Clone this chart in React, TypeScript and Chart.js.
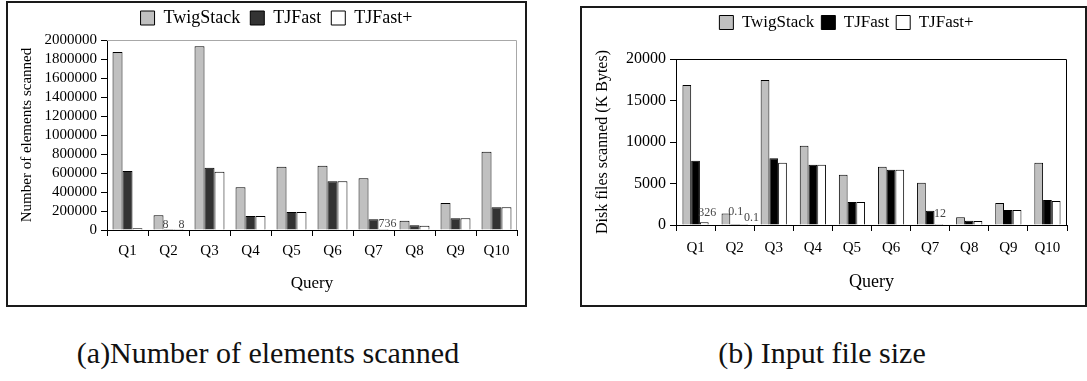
import React, { useEffect, useRef } from 'react';
import { Chart, registerables } from 'chart.js';

Chart.register(...registerables);

const FONT = '"Liberation Serif", "DejaVu Serif", "Noto Serif", Tinos, serif';

// ---------- data ----------
const categories = ['Q1', 'Q2', 'Q3', 'Q4', 'Q5', 'Q6', 'Q7', 'Q8', 'Q9', 'Q10'];
const seriesNames = ['TwigStack', 'TJFast', 'TJFast+'];

// (a) Number of elements scanned
const elemTwigStack = [1875000, 155000, 1935000, 449000, 666000, 677000, 544000, 98000, 284000, 824000];
const elemTJFast = [620000, 8, 656000, 147000, 189000, 512000, 112000, 49000, 123000, 239000];
const elemTJFastPlus = [18000, 8, 614000, 147000, 189000, 512000, 736, 45000, 123000, 239000];
const elemTicks = [0, 200000, 400000, 600000, 800000, 1000000, 1200000, 1400000, 1600000, 1800000, 2000000];

// (b) Input file size (K Bytes)
const diskTwigStack = [16870, 1400, 17470, 9550, 6060, 7020, 5100, 930, 2650, 7510];
const diskTJFast = [7750, 0.1, 8030, 7270, 2770, 6660, 1720, 520, 1800, 3010];
const diskTJFastPlus = [326, 0.1, 7510, 7270, 2770, 6660, 12, 480, 1800, 2890];
const diskTicks = [0, 5000, 10000, 15000, 20000];

// bars that carry a value label: [datasetIndex, categoryIndex, nudgeX, nudgeY]
const elemLabelled = [[1, 1, -3, 2], [2, 1, 3, 2], [2, 6, 4, 1]];
const diskLabelled = [[2, 0, 3, -2], [1, 1, 1, -6], [2, 1, 8, 0], [2, 6, 1, -4]];

// ---------- plugins ----------
const valueLabels = {
  id: 'valueLabels',
  afterDatasetsDraw(chart: any, _a: any, opts: any) {
    const ctx = chart.ctx;
    ctx.save();
    ctx.font = opts.font;
    ctx.fillStyle = opts.color;
    ctx.textAlign = 'center';
    ctx.textBaseline = 'bottom';
    (opts.items || []).forEach((it: any) => {
      const [ds, i, dx = 0, dy = 0] = it;
      const el = chart.getDatasetMeta(ds).data[i];
      const v = chart.data.datasets[ds].data[i];
      ctx.fillText(String(v), el.x + dx, el.y - 1 + dy);
    });
    ctx.restore();
  },
};

const plotFrame = {
  id: 'plotFrame',
  beforeDatasetsDraw(chart: any, _a: any, opts: any) {
    const { left, top, right, bottom } = chart.chartArea;
    const ctx = chart.ctx;
    ctx.save();
    ctx.strokeStyle = opts.color;
    ctx.lineWidth = 1;
    ctx.beginPath();
    ctx.moveTo(left, top + 0.5);
    ctx.lineTo(right - 0.5, top + 0.5);
    ctx.lineTo(right - 0.5, bottom);
    ctx.stroke();
    ctx.restore();
  },
};

const legendPlace = {
  id: 'legendPlace',
  beforeLayout(chart: any, _a: any, opts: any) {
    const lg = chart.legend;
    if (lg && !lg.__patched) {
      const orig = lg.fit.bind(lg);
      lg.fit = function () {
        orig();
        this.height = opts.height;
      };
      lg.__patched = true;
    }
  },
  afterLayout(chart: any, _a: any, opts: any) {
    const lg = chart.legend;
    if (lg) {
      lg.top = opts.top;
      lg.bottom = lg.top + lg.height;
      lg.left += opts.dx;
      lg.right += opts.dx;
    }
  },
};

function makeConfig(s: any) {
  return {
    type: 'bar',
    data: {
      labels: categories,
      datasets: s.values.map((vals: number[], k: number) => ({
        label: seriesNames[k],
        data: vals,
        backgroundColor: s.colors[k],
        borderColor: '#000',
        borderWidth: 1,
        categoryPercentage: s.catPct,
        barPercentage: 1,
      })),
    },
    options: {
      responsive: false,
      animation: false,
      layout: { padding: { left: 0, right: s.padRight, top: 0, bottom: 0 } },
      plugins: {
        tooltip: { enabled: false },
        legend: {
          position: 'top',
          labels: {
            font: { family: FONT, size: s.legendSize },
            color: '#000',
            boxWidth: 14,
            boxHeight: 14,
            padding: s.legendGap,
          },
        },
        legendPlace: s.legendPlace,
        plotFrame: { color: s.frameColor },
        valueLabels: { font: `12px ${FONT}`, color: '#444', items: s.labelled },
      },
      scales: {
        x: {
          grid: { offset: true, drawOnChartArea: false, drawTicks: true, tickLength: 6, color: '#000' },
          border: { color: '#000', width: 1 },
          ticks: { font: { family: FONT, size: 15 }, color: '#000', padding: s.xTickPad, autoSkip: false, maxRotation: 0 },
          title: {
            display: true,
            text: 'Query',
            font: { family: FONT, size: s.xTitleSize },
            color: '#000',
            padding: { top: 0, bottom: s.xTitlePad },
          },
          afterFit(sc: any) {
            sc.height = s.xHeight;
          },
        },
        y: {
          min: 0,
          max: s.ticks[s.ticks.length - 1],
          afterBuildTicks(sc: any) {
            sc.ticks = s.ticks.map((v: number) => ({ value: v }));
          },
          grid: { drawOnChartArea: false, drawTicks: true, tickLength: 6, color: '#000' },
          border: { color: '#000', width: 1 },
          ticks: {
            font: { family: FONT, size: s.yTickSize },
            color: '#000',
            padding: 4,
            autoSkip: false,
            callback: (v: any) => String(v),
          },
          title: {
            display: true,
            text: s.yTitle,
            font: { family: FONT, size: s.yTitleSize },
            color: '#000',
            padding: { top: s.yTitlePad, bottom: 0 },
          },
          afterFit(sc: any) {
            sc.width = s.yWidth;
          },
        },
      },
    },
    plugins: [valueLabels, plotFrame, legendPlace],
  };
}

function BarChart({ x, y, w, h, spec }: any) {
  const ref = useRef<HTMLCanvasElement>(null);
  useEffect(() => {
    const chart = new Chart(ref.current as HTMLCanvasElement, makeConfig(spec) as any);
    return () => chart.destroy();
  }, []);
  return (
    <canvas
      ref={ref}
      width={w}
      height={h}
      style={{ position: 'absolute', left: x, top: y, width: w, height: h }}
    />
  );
}

const specA = {
  values: [elemTwigStack, elemTJFast, elemTJFastPlus],
  colors: ['#c0c0c0', '#333333', '#ffffff'],
  ticks: elemTicks,
  catPct: 0.73,
  padRight: 8,
  legendSize: 18,
  legendGap: 10,
  legendPlace: { height: 37, top: -4, dx: 14 },
  frameColor: '#a8a8a8',
  labelled: elemLabelled,
  xTickPad: 6,
  xTitleSize: 17,
  xTitlePad: 11,
  xHeight: 75,
  yTickSize: 15,
  yTitle: 'Number of elements scanned',
  yTitleSize: 15,
  yTitlePad: 10,
  yWidth: 99,
};

const specB = {
  values: [diskTwigStack, diskTJFast, diskTJFastPlus],
  colors: ['#c0c0c0', '#000000', '#ffffff'],
  ticks: diskTicks,
  catPct: 0.67,
  padRight: 17,
  legendSize: 17,
  legendGap: 7,
  legendPlace: { height: 51, top: -1, dx: 22 },
  frameColor: '#000000',
  labelled: diskLabelled,
  xTickPad: 8,
  xTitleSize: 18,
  xTitlePad: 12,
  xHeight: 80,
  yTickSize: 16,
  yTitle: 'Disk files scanned (K Bytes)',
  yTitleSize: 16,
  yTitlePad: 11,
  yWidth: 94,
};

export default function App() {
  const box = (l: number, t: number, w: number, h: number): React.CSSProperties => ({
    position: 'absolute',
    left: l,
    top: t,
    width: w,
    height: h,
    border: '2px solid #1a1a1a',
    boxSizing: 'border-box',
  });
  const caption = (cx: number): React.CSSProperties => ({
    position: 'absolute',
    left: cx - 300,
    width: 600,
    top: 335,
    textAlign: 'center',
    fontFamily: FONT,
    fontSize: 30,
    lineHeight: '36px',
    color: '#111',
    whiteSpace: 'nowrap',
  });
  return (
    <div style={{ position: 'absolute', left: 0, top: 0, width: 1087, height: 381, background: '#fff', overflow: 'hidden' }}>
      <div style={box(6, 1, 521, 306)} />
      <div style={box(580, 6, 507, 301)} />
      <BarChart x={8} y={3} w={517} h={302} spec={specA} />
      <BarChart x={582} y={8} w={502} h={297} spec={specB} />
      <div style={caption(268)}>(a)Number of elements scanned</div>
      <div style={caption(822)}>(b) Input file size</div>
    </div>
  );
}
